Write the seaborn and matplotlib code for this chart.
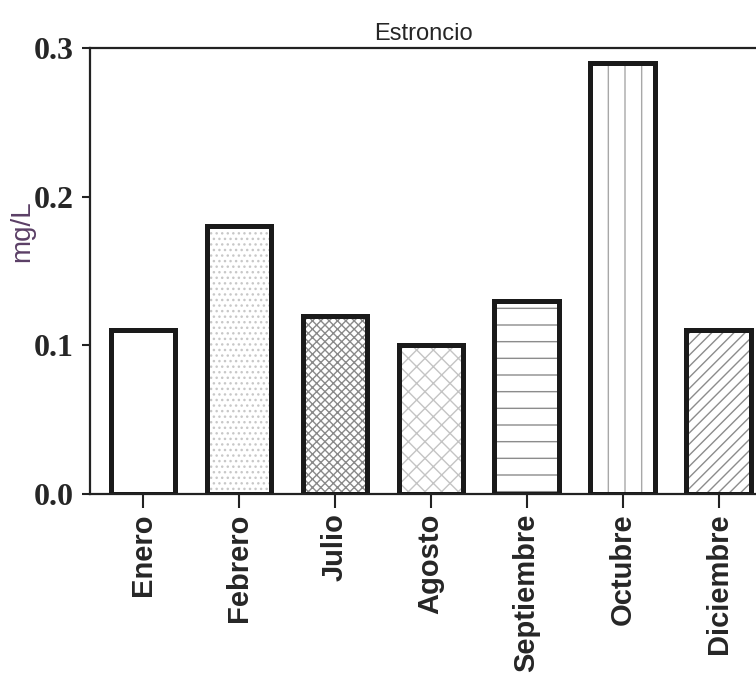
import matplotlib.pyplot as plt
import seaborn as sns

meses = ['Enero', 'Febrero', 'Julio', 'Agosto', 'Septiembre', 'Octubre', 'Diciembre']
estroncio = [0.11, 0.18, 0.12, 0.10, 0.13, 0.29, 0.11]
tramas = ['', '...', 'xxxx', 'xx', '-', '|', '///']
color_trama = ['#ffffff', '#c8c8c8', '#8a8a8a', '#c4c4c4', '#8c8c8c', '#a8a8a8', '#8c8c8c']

sns.set_style('ticks')
plt.rcParams['hatch.linewidth'] = 1.0

fig = plt.figure(figsize=(7.56, 6.92), dpi=100)
ax = fig.add_axes([90 / 756, 1 - 494 / 692, 1 - 90 / 756, 446 / 692])

# capa de tramas (sin borde)
sns.barplot(x=meses, y=estroncio, color='white', saturation=1, width=0.67, ax=ax)
n = len(ax.patches)
for barra, trama, c in zip(ax.patches, tramas, color_trama):
    barra.set_hatch(trama)
    barra.set_edgecolor(c)
    barra.set_linewidth(0)

# capa de bordes gruesos
sns.barplot(x=meses, y=estroncio, color='white', saturation=1, width=0.67, ax=ax)
for barra in ax.patches[n:]:
    barra.set_facecolor('none')
    barra.set_edgecolor('#1a1a1a')
    barra.set_linewidth(3.6)

ax.set_xlim(-0.55, 6.39)
ax.set_ylim(0, 0.3)
ax.set_yticks([0.0, 0.1, 0.2, 0.3])
ax.set_yticklabels(['0.0', '0.1', '0.2', '0.3'], family='Liberation Serif',
                   fontweight='bold', fontsize=23)
ax.set_xticks(range(len(meses)))
ax.set_xticklabels(meses, rotation=90, family='Liberation Sans',
                   fontweight='bold', fontsize=21)

for lado in ['left', 'bottom', 'top']:
    ax.spines[lado].set_linewidth(1.6)
    ax.spines[lado].set_color('#222222')
ax.spines['right'].set_visible(False)
ax.tick_params(axis='y', direction='out', length=6, width=1.5, color='#222222', pad=6)
ax.tick_params(axis='x', direction='out', length=10, width=1.5, color='#222222', pad=4)

ax.set_title('Estroncio', family='Liberation Sans', fontsize=17, pad=6)
ax.set_ylabel('mg/L', family='Liberation Sans', fontsize=20, color='#5b3f66')
ax.yaxis.set_label_coords(-0.082, 0.59)
ax.set_xlabel('')

fig.savefig('out.png', dpi=100)
